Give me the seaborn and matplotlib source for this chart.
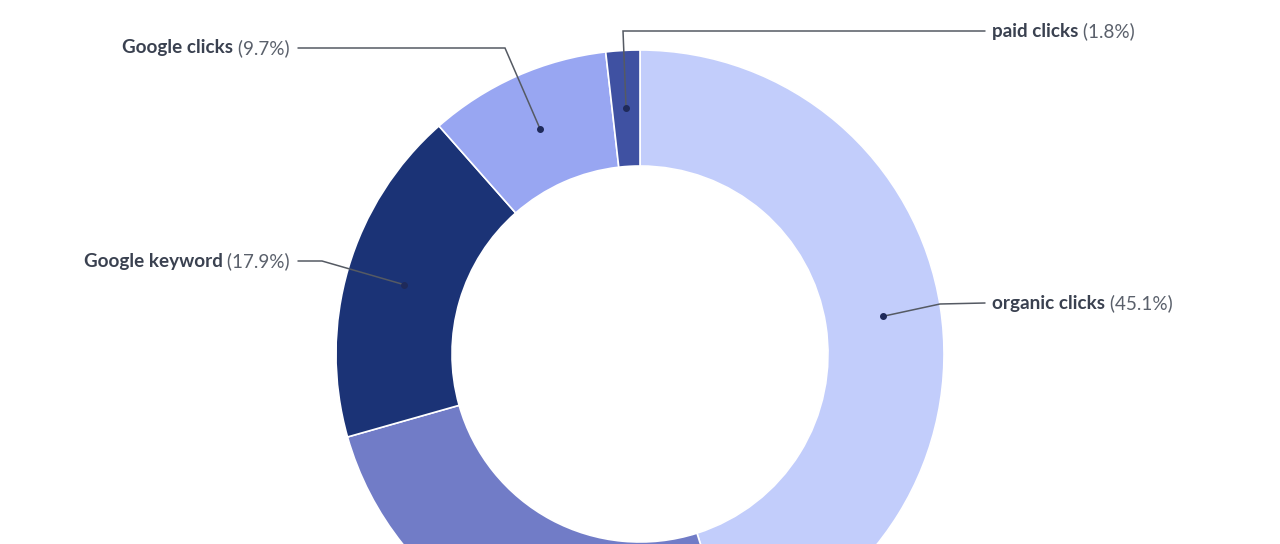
import numpy as np
import seaborn as sns
import matplotlib.pyplot as plt

# slice data, clockwise from the top
categories = ["organic clicks", "other", "Google keyword", "Google clicks", "paid clicks"]
shares = [45.1, 25.5, 17.9, 9.7, 1.8]
colors = ["#c2cdfb", "#717cc7", "#1b3376", "#98a6f2", "#3f51a2"]
labelled = ["organic clicks", "Google keyword", "Google clicks", "paid clicks"]

sns.set_theme(style="white")
plt.rcParams['font.family'] = ['Lato', 'DejaVu Sans']

W, H = 1280, 544
fig = plt.figure(figsize=(W / 100, H / 100), dpi=100)
ax = fig.add_axes([0, 0, 1, 1])

# pixel layout (y measured from top in the picture)
cx, cy, r_out, r_in = 640, 354, 304, 188


def up(y):
    return H - y


ax.pie(shares, colors=colors, startangle=90, counterclock=False,
       radius=r_out, center=(cx, up(cy)),
       wedgeprops=dict(width=r_out - r_in, edgecolor="white", linewidth=1.2))
ax.set_xlim(0, W)
ax.set_ylim(0, H)
ax.set_aspect("equal")
ax.axis("off")

# leader line layout: elbow point, line end, label side
leaders = {
    "organic clicks": ((940, 304), (985, 303), "left"),
    "Google keyword": ((322, 261), (298, 261), "right"),
    "Google clicks": ((505, 48), (298, 48), "right"),
    "paid clicks": ((623, 31), (985, 31), "left"),
}

cum = np.cumsum([0] + shares)
total = cum[-1]
r_mid = (r_out + r_in) / 2
fig.canvas.draw()
renderer = fig.canvas.get_renderer()
name_color = "#3a4150"
pct_color = "#5a606b"
fs = 13.6

for i, cat in enumerate(categories):
    if cat not in labelled:
        continue
    mid = (cum[i] + cum[i + 1]) / 2 / total * 360
    a = np.deg2rad(mid)
    dx, dy = cx + r_mid * np.sin(a), cy - r_mid * np.cos(a)
    (ex, ey), (lx, ly), side = leaders[cat]
    ax.plot([dx, ex, lx], [up(dy), up(ey), up(ly)], color="#555a63", lw=1.1,
            solid_joinstyle="miter")
    ax.plot(dx, up(dy), "o", color="#1f2a5a", ms=4)
    pct = f" ({shares[i]}%)"
    if side == "left":
        t = ax.text(lx + 7, up(ly), cat, ha="left", va="center", fontsize=fs,
                    fontweight="bold", color=name_color)
        bb = t.get_window_extent(renderer)
        ax.text(bb.x1, up(ly), pct, ha="left", va="center", fontsize=fs,
                color=pct_color)
    else:
        t = ax.text(lx - 8, up(ly), pct, ha="right", va="center", fontsize=fs,
                    color=pct_color)
        bb = t.get_window_extent(renderer)
        ax.text(bb.x0, up(ly), cat, ha="right", va="center", fontsize=fs,
                fontweight="bold", color=name_color)

fig.savefig("out.png", dpi=100)
plt.close(fig)
